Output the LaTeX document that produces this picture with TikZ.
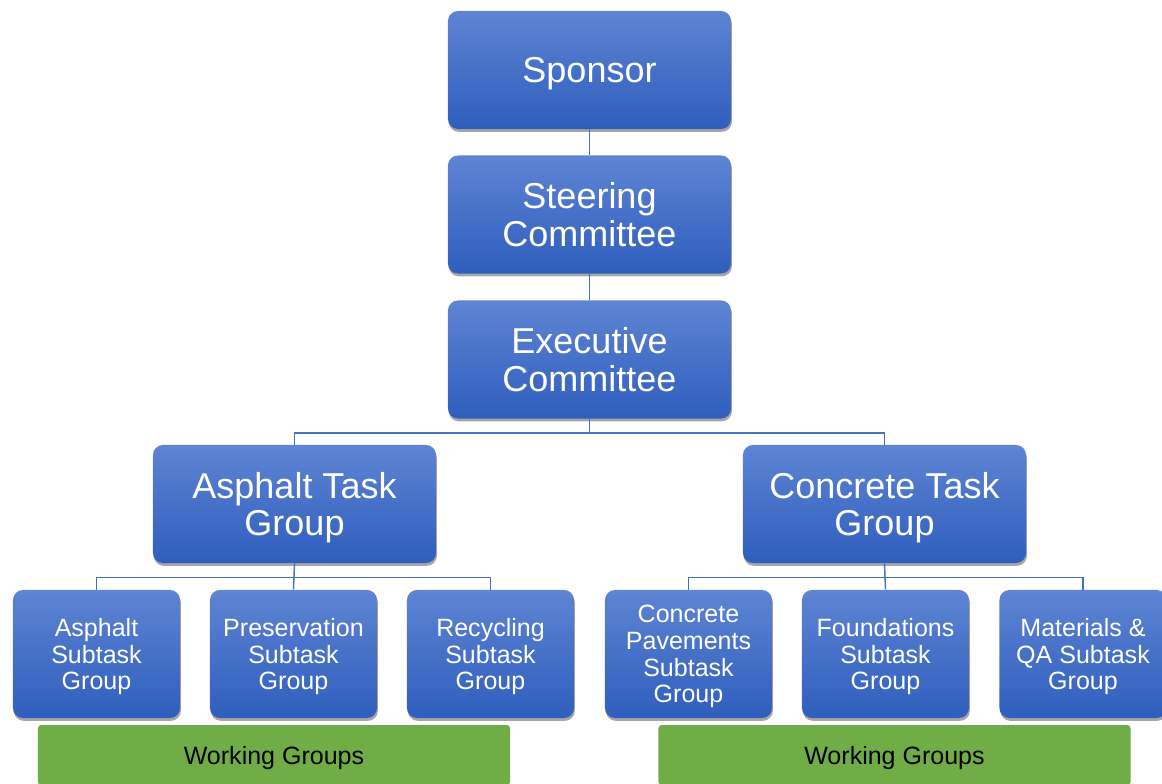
\documentclass[tikz,border=0pt]{standalone}
\usepackage{fontspec}
\setmainfont{Liberation Sans}
\usetikzlibrary{shadows}

\definecolor{boxtop}{RGB}{94,132,211}
\definecolor{boxbot}{RGB}{47,94,189}
\definecolor{linkblue}{RGB}{68,114,196}
\definecolor{wggreen}{RGB}{112,173,71}

\begin{document}
\begin{tikzpicture}[x=0.025cm,y=-0.025cm,
  unit/.style={rounded corners=0.25cm,top color=boxtop,bottom color=boxbot,
    text=white,align=center,inner sep=0pt,text depth=0pt,
    drop shadow={shadow xshift=0.6pt,shadow yshift=-2pt,opacity=0.35,fill=black}},
  bigunit/.style={unit,minimum width=7.075cm,minimum height=2.95cm,
    font=\fontsize{25.6pt}{26.8pt}\selectfont},
  subunit/.style={unit,minimum width=4.175cm,minimum height=3.2cm,
    font=\fontsize{17.8pt}{19pt}\selectfont},
  wgbar/.style={fill=wggreen,rounded corners=0.08cm,minimum width=11.8cm,
    minimum height=1.5cm,inner sep=0pt,text depth=0pt,
    font=\fontsize{17.8pt}{19pt}\selectfont},
  link/.style={draw=linkblue,line width=1pt}]
  \useasboundingbox (0,0) rectangle (1162,783);
  \clip (0,0) rectangle (1162,783);
  % top of the chart
  \node[bigunit] (spons) at (589.5,70) {Sponsor};
  \node[bigunit] (steer) at (589.5,214.5) {Steering\\Committee};
  \node[bigunit] (exec) at (589.5,359.5) {Executive\\Committee};
  % task groups
  \node[bigunit] (atg) at (294.5,504) {Asphalt Task\\Group};
  \node[bigunit] (ctg) at (884.5,504) {Concrete Task\\Group};
  % subtask groups
  \node[subunit] (asub) at (96.5,654) {Asphalt\\Subtask\\Group};
  \node[subunit] (psub) at (293.5,654) {Preservation\\Subtask\\Group};
  \node[subunit] (rsub) at (490.5,654) {Recycling\\Subtask\\Group};
  \node[subunit] (cpsub) at (688.5,654) {Concrete\\Pavements\\Subtask\\Group};
  \node[subunit] (fsub) at (885.5,654) {Foundations\\Subtask\\Group};
  \node[subunit] (msub) at (1083,654) {Materials \&\\QA Subtask\\Group};
  % working groups
  \node[wgbar] (wga) at (274,755) {Working Groups};
  \node[wgbar] (wgc) at (894.5,755) {Working Groups};
  % links
  \draw[link] (spons.south) -- (steer.north);
  \draw[link] (steer.south) -- (exec.north);
  \draw[link] (exec.south) -- ++(0,14) -| (atg.north);
  \draw[link] (exec.south) -- ++(0,14) -| (ctg.north);
  \draw[link] (atg.south) -- ++(0,14) -| (asub.north);
  \draw[link] (atg.south) -- (psub.north);
  \draw[link] (atg.south) -- ++(0,14) -| (rsub.north);
  \draw[link] (ctg.south) -- ++(0,14) -| (cpsub.north);
  \draw[link] (ctg.south) -- (fsub.north);
  \draw[link] (ctg.south) -- ++(0,14) -| (msub.north);
\end{tikzpicture}
\end{document}
